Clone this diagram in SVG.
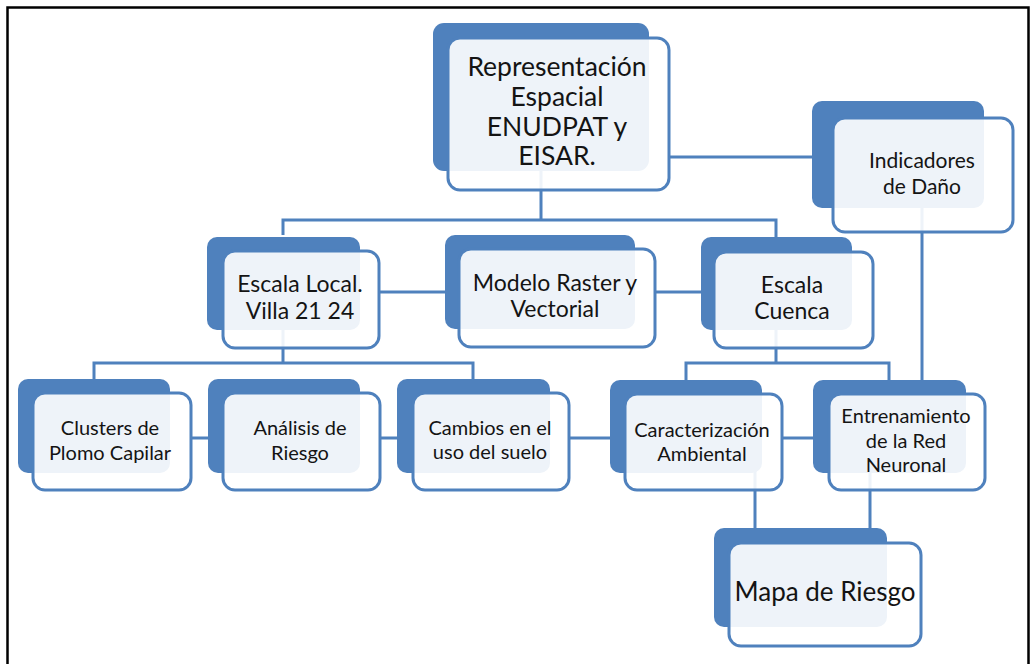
<svg xmlns="http://www.w3.org/2000/svg" width="1035" height="664" viewBox="0 0 1035 664">
<style>
.back{fill:#4f81bd}
.front{fill:#ffffff;fill-opacity:0.9;stroke:#4f81bd;stroke-width:3}
.con{stroke:#4f81bd;stroke-width:3;fill:none}
text{font-family:Lato,"Liberation Sans",sans-serif;fill:#141414;text-anchor:middle}
.t1{font-size:26.5px}
.t2{font-size:23px}
.t3{font-size:20px}
.t5{font-size:21px}
.t4{font-size:26px}
</style>
<rect x="0" y="0" width="1035" height="664" fill="#ffffff"/>
<rect x="7.5" y="7.5" width="1021" height="680" fill="none" stroke="#000" stroke-width="2.5"/>
<g id="connectors">
<path class="con" d="M541,100 V220 M283,235 V220 H776 V240"/>
<path class="con" d="M669,157 H812"/>
<path class="con" d="M379,292 H445 M655,292 H701"/>
<path class="con" d="M283,300 V363 M94,380 V363 H473 V380"/>
<path class="con" d="M776,300 V363 M686,380 V363 H889 V380"/>
<path class="con" d="M191,438 H208 M380,438 H397 M569,438 H610 M782,438 H813"/>
<path class="con" d="M922,200 V400"/>
<path class="con" d="M755,470 V560 M870,470 V560"/>
</g>
<g id="n-top">
<rect class="back" x="433" y="23" width="216" height="148" rx="11"/>
<rect class="front" x="448" y="38" width="221" height="152" rx="12"/>
<text class="t1"><tspan x="557" y="76">Representación</tspan><tspan x="557" y="106">Espacial</tspan><tspan x="557" y="136">ENUDPAT y</tspan><tspan x="557" y="165">EISAR.</tspan></text>
</g>
<g id="n-indicadores">
<rect class="back" x="812" y="101" width="172" height="107" rx="10"/>
<rect class="front" x="833" y="118" width="180" height="114" rx="12"/>
<text class="t5"><tspan x="922" y="168">Indicadores</tspan><tspan x="922" y="194">de Daño</tspan></text>
</g>
<g id="n-local">
<rect class="back" x="207" y="237" width="153" height="93" rx="10"/>
<rect class="front" x="223" y="251" width="156" height="97" rx="12"/>
<text class="t2"><tspan x="300" y="292">Escala Local.</tspan><tspan x="300" y="319">Villa 21 24</tspan></text>
</g>
<g id="n-modelo">
<rect class="back" x="445" y="235" width="190" height="94" rx="10"/>
<rect class="front" x="459" y="249" width="196" height="98" rx="12"/>
<text class="t2"><tspan x="555" y="291">Modelo Raster y</tspan><tspan x="555" y="317">Vectorial</tspan></text>
</g>
<g id="n-cuenca">
<rect class="back" x="701" y="237" width="151" height="93" rx="10"/>
<rect class="front" x="714" y="252" width="159" height="96" rx="12"/>
<text class="t2"><tspan x="792" y="293">Escala</tspan><tspan x="792" y="319">Cuenca</tspan></text>
</g>
<g id="n-clusters">
<rect class="back" x="18" y="379" width="152" height="94" rx="10"/>
<rect class="front" x="33" y="393" width="158" height="97" rx="12"/>
<text class="t3"><tspan x="110" y="435">Clusters de</tspan><tspan x="110" y="460">Plomo Capilar</tspan></text>
</g>
<g id="n-analisis">
<rect class="back" x="208" y="379" width="152" height="94" rx="10"/>
<rect class="front" x="223" y="393" width="157" height="97" rx="12"/>
<text class="t3"><tspan x="300" y="435">Análisis de</tspan><tspan x="300" y="460">Riesgo</tspan></text>
</g>
<g id="n-cambios">
<rect class="back" x="397" y="379" width="153" height="94" rx="10"/>
<rect class="front" x="413" y="393" width="156" height="97" rx="12"/>
<text class="t3"><tspan x="490" y="435">Cambios en el</tspan><tspan x="490" y="459">uso del suelo</tspan></text>
</g>
<g id="n-caracterizacion">
<rect class="back" x="610" y="380" width="152" height="93" rx="10"/>
<rect class="front" x="625" y="394" width="157" height="96" rx="12"/>
<text class="t3"><tspan x="702" y="437">Caracterización</tspan><tspan x="702" y="461">Ambiental</tspan></text>
</g>
<g id="n-entrenamiento">
<rect class="back" x="813" y="380" width="153" height="93" rx="10"/>
<rect class="front" x="829" y="394" width="156" height="96" rx="12"/>
<text class="t3"><tspan x="906" y="423">Entrenamiento</tspan><tspan x="906" y="448">de la Red</tspan><tspan x="906" y="472">Neuronal</tspan></text>
</g>
<g id="n-mapa">
<rect class="back" x="714" y="528" width="173" height="99" rx="10"/>
<rect class="front" x="729" y="543" width="192" height="103" rx="12"/>
<text class="t4"><tspan x="825" y="601">Mapa de Riesgo</tspan></text>
</g>
</svg>
